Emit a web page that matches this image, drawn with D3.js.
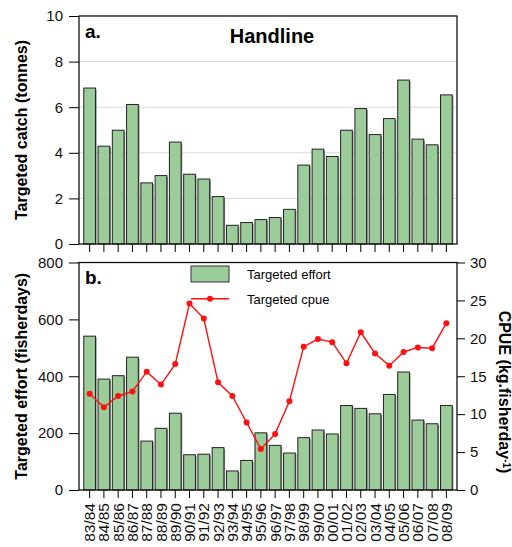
<!DOCTYPE html>
<html>
<head>
<meta charset="utf-8">
<script src="https://cdnjs.cloudflare.com/ajax/libs/d3/7.8.5/d3.min.js"></script>
<style>
  html, body { margin: 0; padding: 0; background: #fff; }
  svg { display: block; font-family: "Liberation Sans", Arial, sans-serif; }
</style>
</head>
<body>
<svg id="chart" width="512" height="547"></svg>
<script>
const seasons = ["83/84","84/85","85/86","86/87","87/88","88/89","89/90","90/91","91/92","92/93","93/94","94/95","95/96","96/97","97/98","98/99","99/00","00/01","01/02","02/03","03/04","04/05","05/06","06/07","07/08","08/09"];
const catchTonnes = [6.84,4.29,4.99,6.12,2.68,3.0,4.47,3.06,2.85,2.08,0.82,0.94,1.07,1.16,1.52,3.46,4.16,3.84,4.99,5.94,4.80,5.5,7.19,4.6,4.35,6.54];
const effortDays = [541,390,402,467,172,217,270,124,126,149,67,104,201,157,130,184,211,197,297,287,268,336,415,246,233,297];
const cpue = [12.7,10.9,12.4,13.0,15.6,13.9,16.6,24.6,22.6,14.2,12.4,8.9,5.4,7.4,11.7,18.9,19.9,19.5,16.7,20.8,18.0,16.4,18.2,18.8,18.7,22.0];
const catchTicks = [0,2,4,6,8,10];
const effortTicks = [0,200,400,600,800];
const cpueTicks = [0,5,10,15,20,25,30];

const svg = d3.select("#chart");
const L = 79, R = 457;
const topA = 16, botA = 244, topB = 262.5, botB = 490;
const barFill = "#9ccc9a";

const x = d3.scaleBand().domain(seasons).range([L, R]).paddingInner(0.18).paddingOuter(0.335);
const yA = d3.scaleLinear().domain([0, 10]).range([botA, topA]);
const yB = d3.scaleLinear().domain([0, 800]).range([botB, topB]);
const yC = d3.scaleLinear().domain([0, 30]).range([botB, topB]);

function styleAxis(g) {
  g.selectAll("path.domain").remove();
  g.selectAll(".tick line").attr("stroke", "#000").attr("stroke-width", 1);
  g.selectAll(".tick text").attr("font-size", 15).attr("fill", "#111")
    .attr("font-family", '"Liberation Sans", Arial, sans-serif');
}

// ---------- Panel a ----------
svg.append("g").selectAll("line").data([2,4,6,8]).join("line")
  .attr("x1", L).attr("x2", R).attr("y1", d => yA(d)).attr("y2", d => yA(d))
  .attr("stroke", "#d9d9d9").attr("stroke-width", 1);

function drawBars(g, data, y, base) {
  g.selectAll("rect.sh").data(data).join("rect").attr("class","sh")
    .attr("x", (d,i) => x(seasons[i]) + 1.2).attr("y", d => y(d) + 1.2)
    .attr("width", x.bandwidth()).attr("height", d => base - y(d) - 1.2)
    .attr("fill", "#8a8a8a");
  g.selectAll("rect.bar").data(data).join("rect").attr("class","bar")
    .attr("x", (d,i) => x(seasons[i])).attr("y", d => y(d))
    .attr("width", x.bandwidth()).attr("height", d => base - y(d))
    .attr("fill", barFill).attr("stroke", "#222").attr("stroke-width", 1);
}
drawBars(svg.append("g"), catchTonnes, yA, botA);

svg.append("rect").attr("x", L).attr("y", topA).attr("width", R - L).attr("height", botA - topA)
  .attr("fill", "none").attr("stroke", "#111").attr("stroke-width", 1.3);

const axA = svg.append("g").attr("transform", `translate(${L},0)`)
  .call(d3.axisLeft(yA).tickValues(catchTicks).tickSize(10).tickPadding(6));
styleAxis(axA);
const axAx = svg.append("g").attr("transform", `translate(0,${botA})`)
  .call(d3.axisBottom(x).tickSize(8).tickFormat(""));
styleAxis(axAx);

svg.append("text").attr("x", 85).attr("y", 38).attr("font-size", 19).attr("font-weight", "bold").text("a.");
svg.append("text").attr("x", 272).attr("y", 43).attr("text-anchor", "middle")
  .attr("font-size", 20).attr("font-weight", "bold").text("Handline");
svg.append("text").attr("transform", `translate(27,${(topA+botA)/2}) rotate(-90)`)
  .attr("text-anchor", "middle").attr("font-size", 16).attr("font-weight", "bold")
  .text("Targeted catch (tonnes)");

// ---------- Panel b ----------
drawBars(svg.append("g"), effortDays, yB, botB);

const line = d3.line().x((d,i) => x(seasons[i]) + x.bandwidth()/2).y(d => yC(d));
svg.append("path").datum(cpue).attr("d", line)
  .attr("fill", "none").attr("stroke", "#ff1010").attr("stroke-width", 1.4);
svg.append("g").selectAll("circle").data(cpue).join("circle")
  .attr("cx", (d,i) => x(seasons[i]) + x.bandwidth()/2).attr("cy", d => yC(d))
  .attr("r", 3).attr("fill", "#ff1010");

svg.append("rect").attr("x", L).attr("y", topB).attr("width", R - L).attr("height", botB - topB)
  .attr("fill", "none").attr("stroke", "#111").attr("stroke-width", 1.3);

const axB = svg.append("g").attr("transform", `translate(${L},0)`)
  .call(d3.axisLeft(yB).tickValues(effortTicks).tickSize(10).tickPadding(6));
styleAxis(axB);
const axC = svg.append("g").attr("transform", `translate(${R},0)`)
  .call(d3.axisRight(yC).tickValues(cpueTicks).tickSize(8).tickPadding(5));
styleAxis(axC);
const axBx = svg.append("g").attr("transform", `translate(0,${botB})`)
  .call(d3.axisBottom(x).tickSize(8).tickPadding(5));
styleAxis(axBx);
axBx.selectAll(".tick text")
  .attr("transform", "rotate(-90)").attr("text-anchor", "end")
  .attr("x", -13).attr("y", 0).attr("dy", "0.36em").attr("font-size", 15.5);

svg.append("text").attr("x", 85).attr("y", 284).attr("font-size", 19).attr("font-weight", "bold").text("b.");
svg.append("text").attr("transform", `translate(27,${(topB+botB)/2}) rotate(-90)`)
  .attr("text-anchor", "middle").attr("font-size", 16).attr("font-weight", "bold")
  .text("Targeted effort (fisherdays)");
const rl = svg.append("text").attr("transform", `translate(498.5,392) rotate(90)`)
  .attr("text-anchor", "middle").attr("font-size", 16).attr("font-weight", "bold");
rl.append("tspan").text("CPUE (kg.fisherday");
rl.append("tspan").attr("font-size", 10).attr("dy", -4).text("-1");
rl.append("tspan").attr("dy", 4).text(")");

// legend
const lg = svg.append("g");
lg.append("rect").attr("x", 191).attr("y", 266).attr("width", 38).attr("height", 16)
  .attr("fill", barFill).attr("stroke", "#333").attr("stroke-width", 1);
lg.append("text").attr("x", 247).attr("y", 278.5).attr("font-size", 13).text("Targeted effort");
lg.append("line").attr("x1", 191).attr("x2", 229).attr("y1", 298.7).attr("y2", 298.7)
  .attr("stroke", "#ff1010").attr("stroke-width", 1.4);
lg.append("circle").attr("cx", 210).attr("cy", 298.7).attr("r", 3).attr("fill", "#ff1010");
lg.append("text").attr("x", 247).attr("y", 303.5).attr("font-size", 13).text("Targeted cpue");
</script>
</body>
</html>
